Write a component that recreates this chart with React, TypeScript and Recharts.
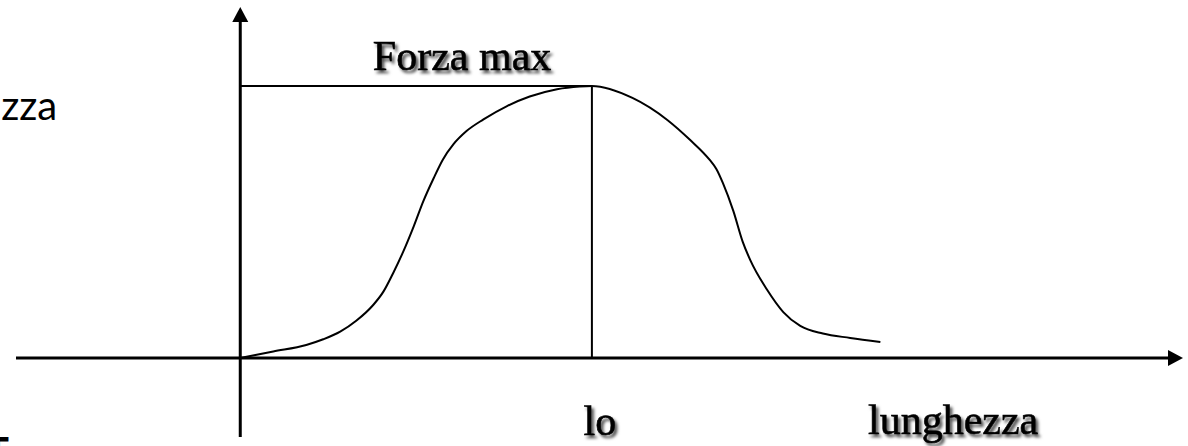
import { ComposedChart, Line, XAxis, YAxis, ReferenceLine } from 'recharts'

// muscle length (arbitrary units) vs developed force (% of max)
const lengths = [0, 3.5, 7.0, 8.8, 10.6, 12.3, 14.1, 15.2, 16.2, 17.3, 18.4, 19.4, 20.5, 21.5, 22.6, 24.0, 25.8, 28.3, 30.7, 33.6, 36.0, 37.3, 41.6, 45.3, 47.7, 49.8, 50.5, 51.2, 52.3, 53.3, 54.1, 55.9, 57.6, 59.4, 61.8, 64.7, 67.9]
const forces = [0, 2.4, 4.8, 6.9, 9.7, 13.7, 19.5, 24.5, 31.1, 39.2, 48.4, 57.5, 66.0, 73.0, 78.5, 83.4, 87.7, 92.6, 96.1, 98.8, 99.8, 100, 95.6, 87.5, 80.2, 72.8, 69.5, 64.3, 54.1, 42.7, 36.0, 25.0, 16.9, 11.8, 9.0, 7.4, 5.9]

const restLength = 37.3 // "lo"
const maxForce = 100

const xDomain = [-24, 100]
const yDomain = [-29, 129]

const data = lengths.map((l, i) => ({ l, f: forces[i] }))

const serif = '"Liberation Serif", "Times New Roman", serif'
const sans = 'Lato, "Open Sans", sans-serif'

const XAxisArrow = (p: any) => {
  const left = Math.min(p.x1, p.x2), right = Math.max(p.x1, p.x2), y = p.y1
  return (
    <g>
      <defs>
        <filter id="txtShadow" x="-10%" y="-20%" width="130%" height="160%">
          <feDropShadow dx={2.5} dy={3} stdDeviation={1.5} floodColor="#000" floodOpacity={0.7} />
        </filter>
      </defs>
      <line x1={left + 2} y1={y} x2={right - 12} y2={y} stroke="#000" strokeWidth={3} />
      <polygon points={`${right},${y} ${right - 15},${y - 8} ${right - 15},${y + 8}`} fill="#000" />
      <text x={right - 315} y={y + 76} fontFamily={serif} fontSize={42} fill="#000" stroke="#000" strokeWidth={0.6} filter="url(#txtShadow)">lunghezza</text>
    </g>
  )
}

const YAxisArrow = (p: any) => {
  const top = Math.min(p.y1, p.y2), bottom = Math.max(p.y1, p.y2), x = p.x1
  return (
    <g>
      <line x1={x} y1={top + 12} x2={x} y2={bottom} stroke="#000" strokeWidth={3} />
      <polygon points={`${x},${top} ${x - 8},${top + 15} ${x + 8},${top + 15}`} fill="#000" />
      <text x={x - 183} y={top + 113} textAnchor="end" fontFamily={sans} fontSize={40} fill="#000">zza</text>
      <text x={-15} y={top + 459} fontFamily={sans} fontWeight={700} fontSize={40} fill="#000">T:</text>
    </g>
  )
}

const MaxLine = (p: any) => (
  <g>
    <line x1={p.x1} y1={p.y1} x2={p.x2} y2={p.y2} stroke="#000" strokeWidth={2} />
    <text x={(p.x1 + p.x2) / 2 + 46} y={p.y1 - 16} textAnchor="middle" fontFamily={serif} fontSize={42} fill="#000" stroke="#000" strokeWidth={0.6} filter="url(#txtShadow)">Forza max</text>
  </g>
)

const RestLine = (p: any) => {
  const bottom = Math.max(p.y1, p.y2)
  return (
    <g>
      <line x1={p.x1} y1={p.y1} x2={p.x2} y2={p.y2} stroke="#000" strokeWidth={2} />
      <text x={p.x1 + 8} y={bottom + 77} textAnchor="middle" fontFamily={serif} fontSize={42} fill="#000" stroke="#000" strokeWidth={0.6} filter="url(#txtShadow)">lo</text>
    </g>
  )
}

export default function App() {
  return (
    <div style={{ position: 'absolute', left: 0, top: 0, width: 1188, height: 446, background: '#fff' }}>
      <ComposedChart width={1188} height={446} data={data} margin={{ top: 7, right: 5, bottom: 9, left: 14 }}>
        <XAxis dataKey="l" type="number" domain={xDomain} hide allowDataOverflow />
        <YAxis type="number" domain={yDomain} hide allowDataOverflow />
        <ReferenceLine y={0} shape={XAxisArrow} />
        <ReferenceLine x={0} shape={YAxisArrow} />
        <ReferenceLine segment={[{ x: 0, y: maxForce }, { x: restLength, y: maxForce }]} shape={MaxLine} />
        <ReferenceLine segment={[{ x: restLength, y: 0 }, { x: restLength, y: maxForce }]} shape={RestLine} />
        <Line dataKey="f" type="monotone" stroke="#000" strokeWidth={2} dot={false} activeDot={false} isAnimationActive={false} />
      </ComposedChart>
    </div>
  )
}
